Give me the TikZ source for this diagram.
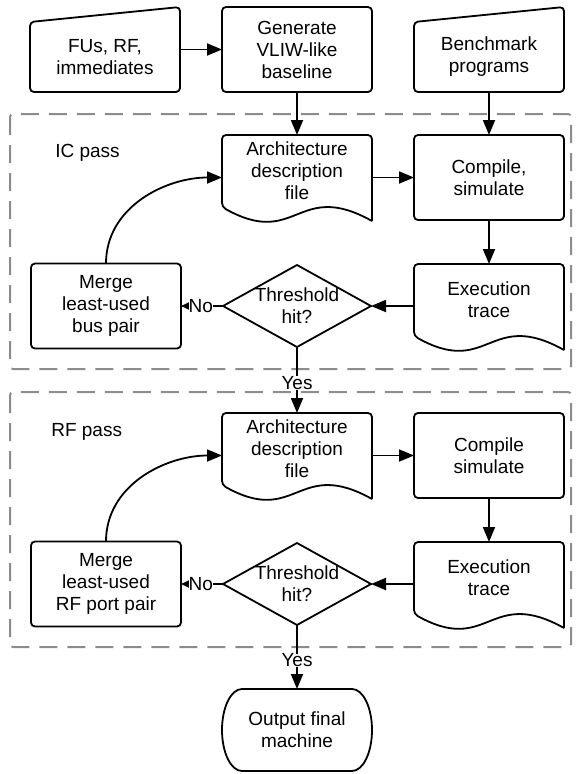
\documentclass[tikz,border=0pt]{standalone}
\usepackage{fontspec}
\setmainfont{Liberation Sans}
\usepackage{tikz}
\usetikzlibrary{positioning,shapes,arrows.meta}
\definecolor{PassGray}{HTML}{8C8C8C}

% outlines for the flowchart shapes TikZ does not have
\newcommand{\manualin}[1]{%
  \draw[rounded corners=4pt] (#1.south west) -- (#1.north west)
    -- ([yshift=15pt]#1.north east) -- (#1.south east) -- cycle;}
\newcommand{\docfile}[1]{%
  \draw[rounded corners=4pt] ([yshift=-14pt]#1.south east) -- (#1.north east)
    -- (#1.north west) -- (#1.south west)
    .. controls ([xshift=75pt,yshift=-42pt]#1.south west)
    and ([xshift=75pt,yshift=28pt]#1.south west) .. ([yshift=-14pt]#1.south east);}
\newcommand{\termshape}[1]{%
  \draw ([xshift=20pt]#1.north west) -- ([xshift=-20pt]#1.north east)
    arc[start angle=90, end angle=-90, x radius=20pt, y radius=41pt]
    -- ([xshift=20pt]#1.south west)
    arc[start angle=270, end angle=90, x radius=20pt, y radius=41pt] -- cycle;}

\begin{document}
\begin{tikzpicture}[x=1pt, y=1pt, line width=1.8pt,
    >={Triangle[length=15pt,width=12pt]},
    every node/.style={font=\fontsize{19}{22}\selectfont, align=center, outer sep=0pt},
    proc/.style={draw, rectangle, rounded corners=4pt,
    minimum width=150pt, minimum height=85pt, inner sep=2pt},
    manual/.style={rectangle, minimum width=150pt, minimum height=70pt, inner sep=2pt},
    doc/.style={rectangle, minimum width=150pt, minimum height=72pt, inner sep=2pt},
    decision/.style={draw, diamond, minimum width=148pt, minimum height=82pt, inner sep=0pt},
    term/.style={rectangle, minimum width=150pt, minimum height=82pt, inner sep=2pt},
    lbl/.style={fill=white, inner sep=0pt},
    smallhead/.style={-{Triangle[length=8pt,width=7pt]}},
    passbox/.style={draw=PassGray, line width=2pt, dash pattern=on 18pt off 10pt,
    rounded corners=3pt}]
    \useasboundingbox (0,0) rectangle (581,-774);

    % pass frames
    \draw[passbox] (10,-114) rectangle (571,-369);
    \draw[passbox] (10,-392) rectangle (571,-647);
    \node [anchor=west] (ICLabel) at (52,-153) {IC pass};
    \node [anchor=west] (RFLabel) at (48,-432) {RF pass};

    % inputs
    \node [proc] (Gen) at (297,-49.5) {Generate\\VLIW-like\\baseline};
    \node [manual, left=42pt of Gen.south west, anchor=south east] (FUs) {FUs, RF,\\immediates};
    \node [manual, right=42pt of Gen.south east, anchor=south west] (Bench) {Benchmark\\programs};

    % IC pass
    \node [doc, below=43pt of Gen] (Arch1) {Architecture\\description\\file};
    \node [proc, below=43pt of Bench] (Compile1) {Compile,\\simulate};
    \node [doc, below=44pt of Compile1] (Exec1) {Execution\\trace};
    \node [decision, below=58pt of Arch1, label={center:{Threshold\\hit?}}] (Thr1) {};
    \node [proc, left=42pt of Thr1] (Merge1) {Merge\\least-used\\bus pair};

    % RF pass
    \node [doc, below=66pt of Thr1] (Arch2) {Architecture\\description\\file};
    \node [proc, right=42pt of Arch2.north east, anchor=north west] (Compile2) {Compile\\simulate};
    \node [doc, below=44pt of Compile2] (Exec2) {Execution\\trace};
    \node [decision, below=58pt of Arch2, label={center:{Threshold\\hit?}}] (Thr2) {};
    \node [proc, left=42pt of Thr2] (Merge2) {Merge\\least-used\\RF port pair};

    \node [term, below=64pt of Thr2] (Output) {Output final\\machine};

    \manualin{FUs}
    \manualin{Bench}
    \docfile{Arch1}
    \docfile{Exec1}
    \docfile{Arch2}
    \docfile{Exec2}
    \termshape{Output}

    \draw[->] (FUs.east |- Gen.west) -- (Gen.west);
    \draw[->] (Gen) -- (Arch1);
    \draw[->] (Bench) -- (Compile1);

    \draw[->] (Arch1.east |- Compile1.west) -- (Compile1.west);
    \draw[->] (Compile1) -- (Exec1);
    \draw[->] (Exec1.west |- Thr1.east) -- (Thr1.east);
    \draw[smallhead] (Thr1.west) -- node[lbl, pos=0.53] {No} (Merge1.east);
    \draw[->] (Merge1.north) to[out=90, in=180] (Arch1.west |- Compile1.west);
    \draw[->] (Thr1.south) -- node[lbl, pos=0.545] {Yes} (Arch2.north);

    \draw[->] (Arch2.east |- Compile2.west) -- (Compile2.west);
    \draw[->] (Compile2) -- (Exec2);
    \draw[->] (Exec2.west |- Thr2.east) -- (Thr2.east);
    \draw[smallhead] (Thr2.west) -- node[lbl, pos=0.53] {No} (Merge2.east);
    \draw[->] (Merge2.north) to[out=90, in=180] (Arch2.west |- Compile2.west);
    \draw[->] (Thr2.south) -- node[lbl, pos=0.55] {Yes} (Output.north);
\end{tikzpicture}
\end{document}
